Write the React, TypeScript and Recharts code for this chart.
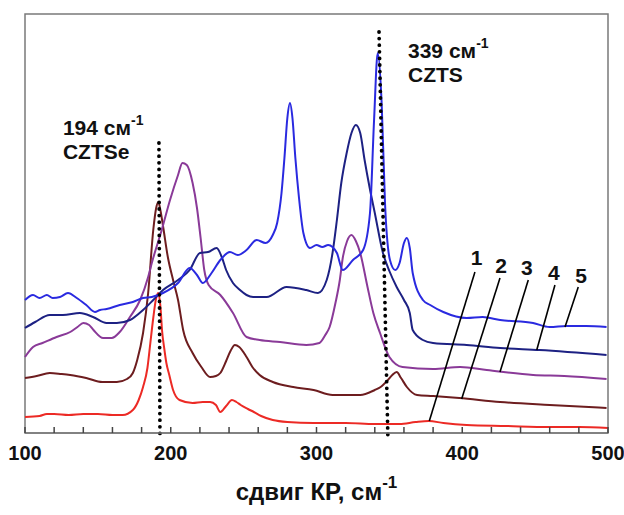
import { LineChart, Line, XAxis, YAxis, ReferenceLine, ReferenceArea, ReferenceDot } from 'recharts';

// Raman shift (cm-1) and intensity (arb. units, offset per curve)
const shift1 = [100, 110, 115, 120, 130, 140, 150, 160, 167, 174, 178, 181, 184, 186, 188, 190, 191.5, 193, 194, 195.5, 197, 199, 201.6, 206, 215, 222, 227, 231, 234, 238, 242, 245, 248, 253, 257, 262, 270, 280, 298, 320, 340, 357, 368, 377, 387, 403, 430, 460, 480, 500];
const int1 = [16, 17, 19, 19, 18, 19, 19, 18, 18, 23, 33, 46, 65, 90, 115, 135, 140, 125, 103, 85, 70, 58, 43, 33, 30, 31, 31, 28, 21, 27, 33, 31, 28, 24, 21, 17, 13, 11, 10, 10, 9, 9, 11, 12, 10, 8, 7, 6, 6, 5];

const shift2 = [100, 108, 117, 125, 131, 142, 153, 163, 170, 174, 177, 181, 184.5, 188, 190, 191.5, 193, 194.8, 198, 201.6, 205, 208.5, 215, 221, 227, 231, 234, 238, 241, 244, 247, 252, 256, 261, 270, 284, 298, 311, 330, 340, 344, 349, 352, 355, 358, 362, 369, 380, 398, 426, 460, 499];
const int2 = [55, 57, 60, 59, 58, 55, 51, 51, 54, 60, 73, 100, 140, 203, 225, 231, 222, 206, 176, 153, 133, 103, 80, 66, 56, 57, 60, 72, 82, 88, 86, 76, 66, 58, 51, 46, 43, 38, 38, 43, 46, 53, 58, 61, 55, 46, 38, 37, 35, 31, 28, 25];

const shift3 = [100, 105.5, 112, 121.7, 131, 136, 140, 144, 147, 153.6, 159.5, 165, 172, 179, 184.5, 187, 193.8, 199.5, 205, 208, 211, 215, 218, 220.5, 223, 226, 234, 242.7, 252, 261, 275, 293, 302, 306, 309, 313, 316, 318, 321, 324, 327, 330, 335, 339, 343.6, 350, 359, 380, 398.5, 416.8, 448.6, 470, 499];
const int3 = [76, 86, 90, 96, 101, 106, 110, 108, 103, 95, 95, 101, 116, 133, 156, 170, 203, 233, 258, 270, 268, 250, 225, 195, 163, 148, 138, 120, 96, 93, 91, 88, 90, 98, 106, 130, 153, 175, 192, 198, 192, 180, 146, 120, 100, 76, 66, 64, 66, 63, 58, 57, 54];

const shift4 = [100, 107, 117, 126, 137.7, 146.7, 156, 163, 172, 181, 188, 194.7, 205, 213, 220, 225.6, 231.5, 235, 238, 242.7, 247.5, 252, 256.5, 265.8, 279.5, 293, 301, 307, 311, 314, 317, 320.7, 324, 327, 330, 333, 336.5, 340, 345.6, 350, 355, 360, 364, 366, 373, 380, 403, 426, 453, 499];
const int4 = [105, 111, 118, 118, 120, 116, 110, 110, 113, 123, 133, 143, 153, 163, 180, 181, 185, 176, 163, 150, 143, 138, 136, 136, 146, 143, 140, 153, 180, 213, 250, 280, 300, 308, 300, 273, 245, 220, 180, 162, 146, 133, 120, 103, 93, 90, 88, 85, 83, 78];

const shift5 = [100, 105.5, 110, 115, 119, 124, 129.5, 135.5, 142, 148, 151.5, 156, 165, 174, 181, 187, 194.7, 205, 213, 218, 222, 228, 234, 240.6, 246, 252, 259, 265, 270, 273, 276, 278, 280, 281.8, 283.5, 285.5, 288, 291, 295.5, 300, 304, 308, 311, 314, 318, 325, 332, 336.7, 339.5, 342, 344.7, 347, 350.4, 354, 357, 360, 362, 364, 366, 373, 378, 387, 403, 414, 426, 448.6, 460, 471.7, 485, 499];
const int5 = [133, 138, 135, 138, 135, 136, 140, 135, 128, 121, 123, 124, 128, 131, 135, 136, 140, 150, 165, 158, 150, 160, 173, 181, 178, 183, 193, 190, 198, 210, 240, 275, 315, 330, 315, 275, 235, 200, 185, 188, 186, 188, 186, 180, 163, 173, 183, 220, 313, 380, 330, 230, 173, 163, 170, 190, 195, 185, 160, 133, 128, 121, 115, 116, 113, 110, 106, 107, 107, 106];

const curveColors = ['#ec2a25', '#6d1d1f', '#8a3a98', '#1d2183', '#2a2ae0'];

const xTicks = [100, 120, 140, 160, 180, 200, 220, 240, 260, 280, 300, 320, 340, 360, 380, 400, 420, 440, 460, 480, 500];
const xLabels = [100, 200, 300, 400, 500];

// curve number labels and their leader lines
const curveNames = ['1', '2', '3', '4', '5'];
const nameX = [409.9, 426.6, 444.4, 462.9, 481.5];
const nameY = [168, 160, 158, 153, 150];
const leaderTopX = [408.7, 425.9, 445.3, 463.6, 479.6];
const leaderTopY = [161, 155, 153, 148, 146];
const leaderTipX = [377.4, 399.6, 425.9, 451.1, 470.5];
const leaderTipY = [12, 34, 61, 83, 106];

const FONT = '"Liberation Sans", Arial, sans-serif';
const frameColor = '#7a7a7a';

const toPoints = (xs: number[], ys: number[]) => xs.map((x, i) => ({ x, y: ys[i] }));
const series = [
  toPoints(shift1, int1),
  toPoints(shift2, int2),
  toPoints(shift3, int3),
  toPoints(shift4, int4),
  toPoints(shift5, int5),
];

// inward tick mark plus a label on the round hundreds
const AxisTick = (props: any) => {
  const { x, y, payload } = props;
  return (
    <g>
      <path d={`M${x},${y}L${x},${y - 6}`} stroke="#444" strokeWidth={1.5} fill="none" />
      {xLabels.includes(payload.value) && (
        <text x={x} y={y + 27} textAnchor="middle" fontFamily={FONT} fontWeight="bold" fontSize={20} fill="#111" stroke="none">
          {payload.value}
        </text>
      )}
    </g>
  );
};

const PeakNote = (title: string, wave: string) => (props: any) => (
  <text x={props.cx} y={props.cy} fontFamily={FONT} fontWeight="bold" fontSize={21} fill="#111">
    <tspan>{wave} см</tspan>
    <tspan fontSize={14} dy={-10}>-1</tspan>
    <tspan x={props.cx} dy={34}>{title}</tspan>
  </text>
);

const CurveName = (name: string) => (props: any) => (
  <text x={props.cx} y={props.cy} textAnchor="middle" fontFamily={FONT} fontWeight="bold" fontSize={21} fill="#111">
    {name}
  </text>
);

export default function App() {
  return (
    <div>
      <style>{'body{margin:0}'}</style>
      <LineChart width={624} height={515} margin={{ top: 14, right: 16, left: 25, bottom: 0 }}>
        <XAxis
          dataKey="x"
          type="number"
          domain={[100, 500]}
          ticks={xTicks}
          interval={0}
          height={82}
          axisLine={{ stroke: frameColor, strokeWidth: 1.5 }}
          tickLine={false}
          tickSize={0}
          tickMargin={0}
          tick={AxisTick}
          label={{
            content: (p: any) => {
              const vb = p.viewBox;
              return (
                <text x={vb.x + vb.width / 2} y={vb.y + 67} textAnchor="middle" fontFamily={FONT} fontWeight="bold" fontSize={24} fill="#111">
                  <tspan>сдвиг КР, см</tspan>
                  <tspan fontSize={17} dy={-12}>-1</tspan>
                </text>
              );
            },
          }}
        />
        <YAxis hide type="number" domain={[0, 419]} />
        <ReferenceArea x1={100} x2={500} y1={0} y2={419} fill="none" fillOpacity={0} stroke={frameColor} strokeWidth={1.5} />
        {series.map((d, i) => (
          <Line
            key={i}
            data={d}
            dataKey="y"
            type="monotone"
            stroke={curveColors[i]}
            strokeWidth={2}
            dot={false}
            activeDot={false}
            isAnimationActive={false}
          />
        ))}
        <ReferenceLine
          segment={[{ x: 191.9, y: 290 }, { x: 192.6, y: -6 }]}
          stroke="#000"
          strokeWidth={3.8}
          strokeDasharray="0 6.6"
          strokeLinecap="round"
          ifOverflow="visible"
        />
        <ReferenceLine
          segment={[{ x: 342.9, y: 401 }, { x: 349, y: -6 }]}
          stroke="#000"
          strokeWidth={3.8}
          strokeDasharray="0 6.6"
          strokeLinecap="round"
          ifOverflow="visible"
        />
        {curveNames.map((n, i) => (
          <ReferenceLine
            key={'l' + n}
            segment={[{ x: leaderTopX[i], y: leaderTopY[i] }, { x: leaderTipX[i], y: leaderTipY[i] }]}
            stroke="#000"
            strokeWidth={1.6}
            ifOverflow="visible"
          />
        ))}
        {curveNames.map((n, i) => (
          <ReferenceDot key={'n' + n} x={nameX[i]} y={nameY[i]} r={0} ifOverflow="visible" shape={CurveName(n)} />
        ))}
        <ReferenceDot x={126} y={298} r={0} ifOverflow="visible" shape={PeakNote('CZTSe', '194')} />
        <ReferenceDot x={362.8} y={375} r={0} ifOverflow="visible" shape={PeakNote('CZTS', '339')} />
      </LineChart>
    </div>
  );
}
